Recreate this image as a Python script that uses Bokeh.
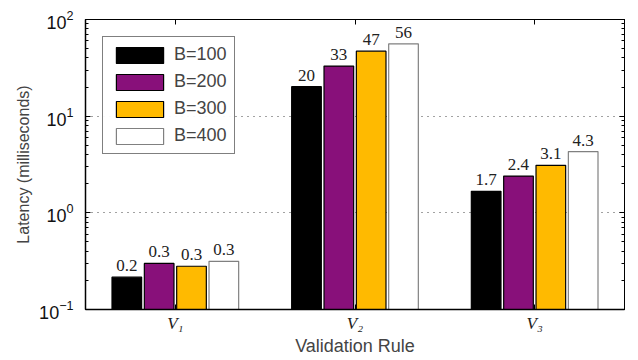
from bokeh.plotting import figure
from bokeh.models import (ColumnDataSource, FixedTicker, LogAxis, LinearAxis, Range1d,
                          Legend, LegendItem, LogTicker)
from bokeh.embed import file_html
from bokeh.resources import INLINE
from bokeh.core.properties import value

rules = ["V₁", "V₂", "V₃"]
series = ["B=100", "B=200", "B=300", "B=400"]
b100 = [0.216, 20.2, 1.67]
b200 = [0.30, 33.0, 2.4]
b300 = [0.28, 47.0, 3.1]
b400 = [0.315, 56.0, 4.3]
lbl100 = ["0.2", "20", "1.7"]
lbl200 = ["0.3", "33", "2.4"]
lbl300 = ["0.3", "47", "3.1"]
lbl400 = ["0.3", "56", "4.3"]

fills = ["#000000", "#88107A", "#FFBA00", "#FFFFFF"]
lines = ["#000000", "#000000", "#000000", "#808080"]
offsets = [-0.27, -0.09, 0.09, 0.27]

p = figure(width=638, height=360, y_axis_type="log",
           x_range=Range1d(0.5, 3.5), y_range=Range1d(0.1, 100),
           output_backend="svg", toolbar_location=None,
           min_border_left=85, min_border_right=14, min_border_top=19, min_border_bottom=51)

p.outline_line_color = "black"
p.outline_line_width = 1
p.background_fill_color = "white"

xs = [1, 2, 3]
items = []
for vals, lbls, fc, lc, off, name in zip([b100, b200, b300, b400],
                                          [lbl100, lbl200, lbl300, lbl400],
                                          fills, lines, offsets, series):
    src = ColumnDataSource(dict(x=[x + off for x in xs], top=vals, lbl=lbls))
    r = p.vbar(x="x", top="top", bottom=0.1, width=0.165, source=src,
               fill_color=fc, line_color=lc, line_width=1.2)
    p.text(x="x", y="top", text="lbl", source=src, text_align="center",
           text_baseline="bottom", y_offset=-6, text_font=value("Liberation Serif"),
           text_font_size="17px", text_color="#222222")
    items.append(LegendItem(label=name, renderers=[r]))

legend = Legend(items=items, location="top_left")
legend.margin = 17
legend.padding = 7
legend.spacing = 6
legend.glyph_height = 20
legend.glyph_width = 59
legend.label_standoff = 5
legend.label_text_font = "Liberation Sans"
legend.label_text_font_size = "18px"
legend.label_text_baseline = "middle"
legend.border_line_color = "black"
legend.border_line_width = 1
legend.label_height = 20
p.add_layout(legend)

# grid
p.xgrid.visible = False
p.ygrid.ticker = FixedTicker(ticks=[1, 10])
p.ygrid.grid_line_color = "#444444"
p.ygrid.grid_line_dash = "1 5"
p.ygrid.grid_line_width = 1

# x axis
xa = p.xaxis[0]
xa.ticker = FixedTicker(ticks=xs)
xa.major_label_overrides = {1: rules[0], 2: rules[1], 3: rules[2]}
xa.major_label_text_font = "Liberation Serif"
xa.major_label_text_font_style = "italic"
xa.major_label_text_font_size = "17px"
xa.major_label_text_color = "#222222"
xa.major_tick_in = 5
xa.major_tick_out = 0
xa.minor_tick_in = 0
xa.minor_tick_out = 0
xa.axis_label = "Validation Rule"
xa.axis_label_text_font = "Liberation Sans"
xa.axis_label_text_font_style = "normal"
xa.axis_label_text_font_size = "18px"
xa.axis_label_standoff = 0
xa.major_label_standoff = 4
xa.axis_line_color = "black"
xa.axis_line_width = 1.5

ya = p.yaxis[0]
ya.ticker = LogTicker(num_minor_ticks=10)
ya.major_tick_in = 5
ya.major_tick_out = 0
ya.minor_tick_in = 3
ya.minor_tick_out = 0
ya.major_label_text_font = "Liberation Sans"
ya.major_label_text_font_size = "18px"
ya.major_label_text_color = "#111111"
ya.axis_label = "Latency (milliseconds)"
ya.axis_label_text_font = "Liberation Sans"
ya.axis_label_text_font_style = "normal"
ya.axis_label_text_font_size = "16px"
ya.axis_label_standoff = 4
ya.major_label_standoff = 12
ya.axis_line_width = 1.5

ra = LogAxis(ticker=LogTicker(num_minor_ticks=10),
             major_label_text_font_size="1px", major_label_text_alpha=0,
             major_tick_in=5, major_tick_out=0, minor_tick_in=3, minor_tick_out=0,
             major_label_standoff=0)
p.add_layout(ra, "right")
ta = LinearAxis(ticker=FixedTicker(ticks=xs),
                major_label_text_font_size="1px", major_label_text_alpha=0,
                major_tick_in=5, major_tick_out=0, minor_tick_in=0, minor_tick_out=0,
                major_label_standoff=0)
p.add_layout(ta, "above")

open("out.html", "w").write(file_html(p, INLINE))
